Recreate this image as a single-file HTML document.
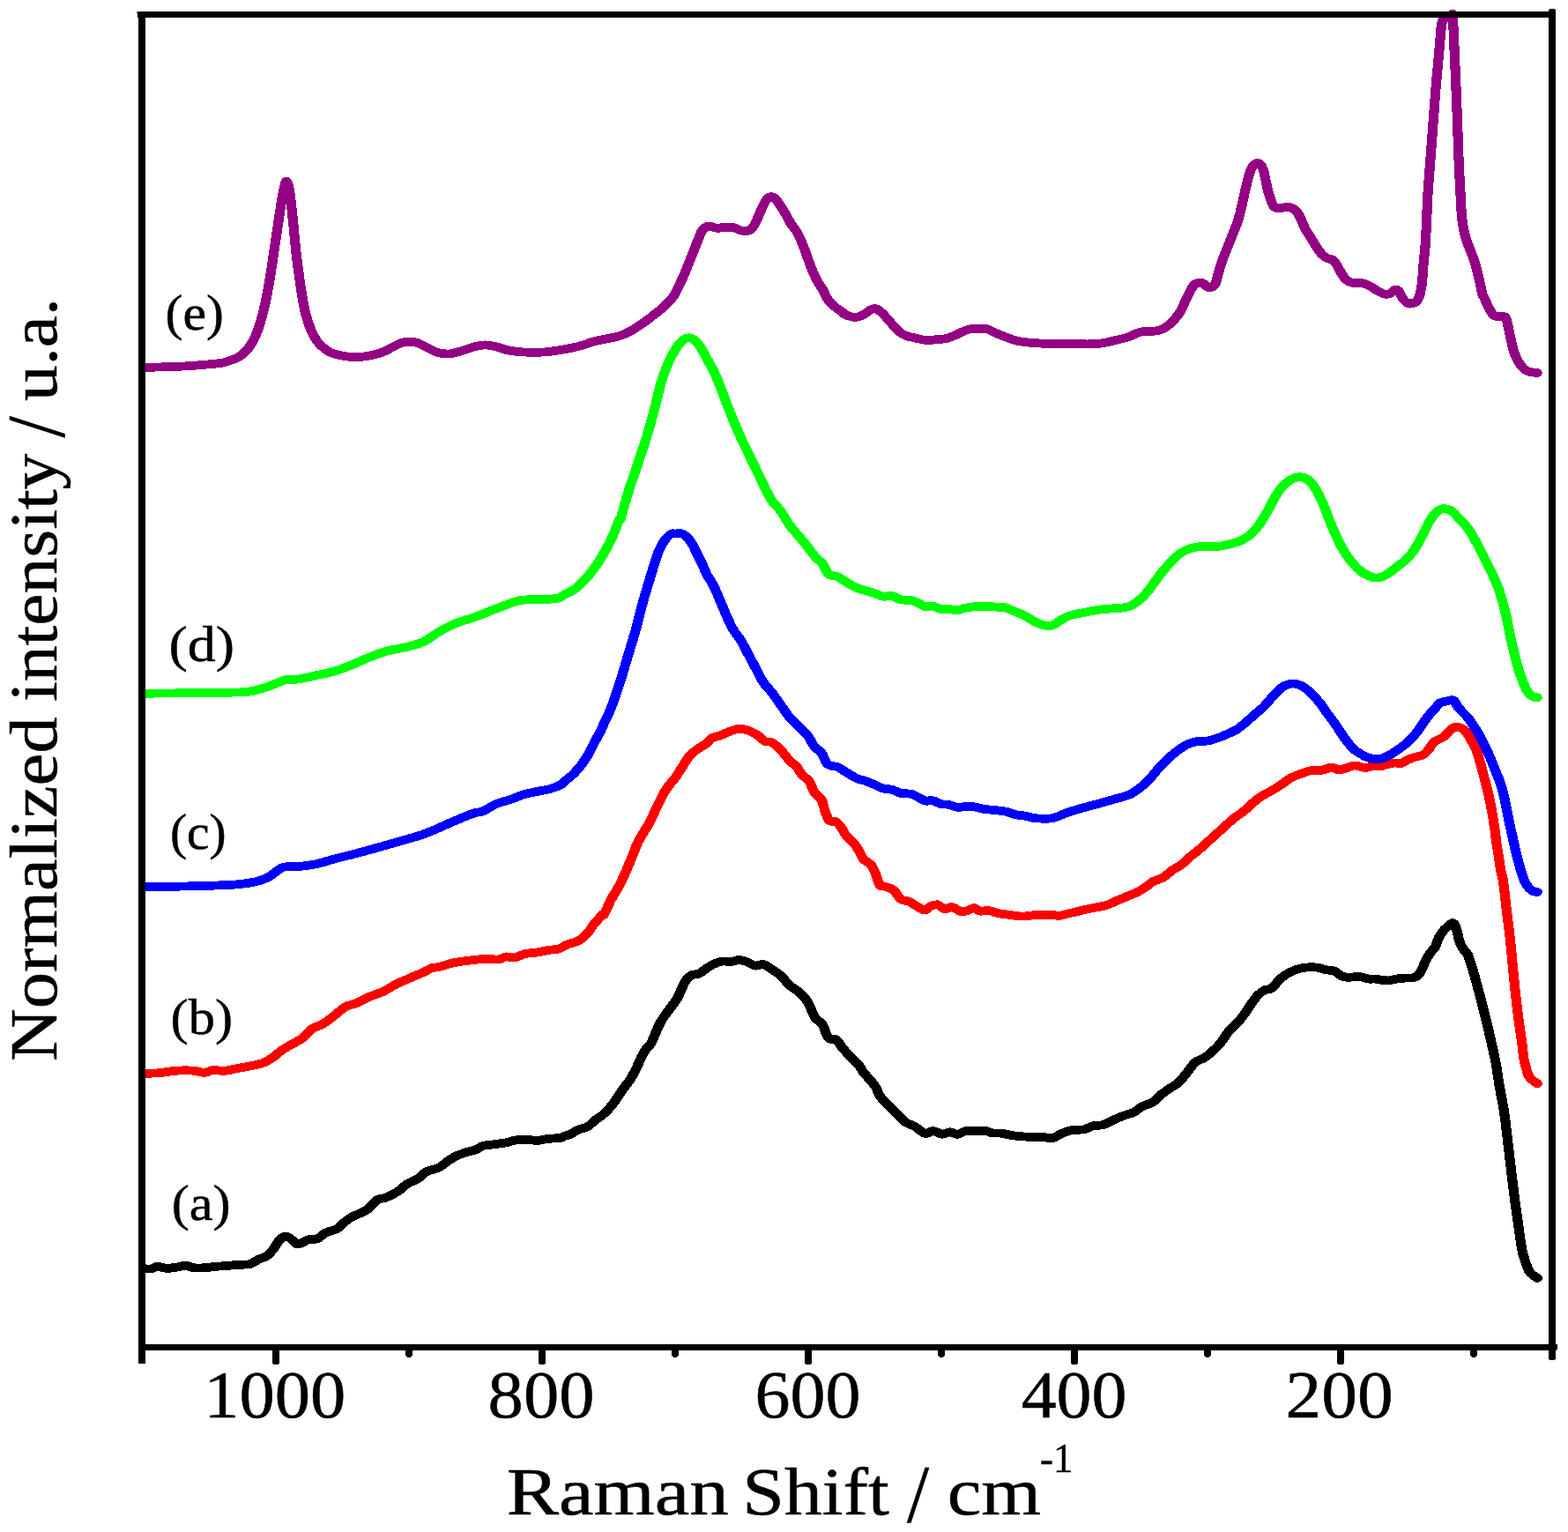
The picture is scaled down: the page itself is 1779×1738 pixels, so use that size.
<!DOCTYPE html>
<html lang="en">
<head>
<meta charset="utf-8">
<title>Raman spectra</title>
<style>
html,body{margin:0;padding:0;background:#ffffff;}
body{width:1779px;height:1738px;overflow:hidden;}
svg{display:block;}
text{font-family:"Liberation Serif","DejaVu Serif",serif;fill:#000;stroke:#000;stroke-width:0.5px;}
.curve{fill:none;stroke-width:9.8;stroke-linejoin:round;stroke-linecap:round;shape-rendering:crispEdges;}
</style>
</head>
<body>
<svg width="1779" height="1738" viewBox="0 0 1779 1738">
<rect x="0" y="0" width="1779" height="1738" fill="#ffffff"/>

<g id="curves" transform="scale(1.14,1)">
<path class="curve" stroke="#000000" d="M142.98,1439.3 C144.30,1439.3 148.54,1439.7 150.88,1439.3 C153.22,1438.9 154.53,1436.8 157.02,1436.7 C159.50,1436.6 162.43,1438.8 165.79,1438.9 C169.15,1439.0 173.98,1437.8 177.19,1437.3 C180.41,1436.8 182.46,1435.5 185.09,1435.7 C187.72,1435.9 189.91,1437.9 192.98,1438.3 C196.05,1438.7 200.00,1438.5 203.51,1438.3 C207.02,1438.1 210.23,1437.3 214.04,1436.9 C217.84,1436.5 222.22,1436.3 226.32,1435.9 C230.41,1435.5 234.80,1435.0 238.60,1434.7 C242.40,1434.4 245.91,1435.0 249.12,1433.9 C252.34,1432.8 255.26,1429.7 257.89,1428.3 C260.53,1426.9 262.57,1427.1 264.91,1425.3 C267.25,1423.5 269.88,1420.1 271.93,1417.3 C273.98,1414.5 275.58,1410.6 277.19,1408.3 C278.80,1406.0 279.97,1404.1 281.58,1403.3 C283.19,1402.5 285.23,1402.6 286.84,1403.3 C288.45,1404.0 289.77,1406.0 291.23,1407.3 C292.69,1408.6 294.15,1410.8 295.61,1411.3 C297.08,1411.8 298.10,1411.1 300.00,1410.3 C301.90,1409.5 304.39,1407.1 307.02,1406.3 C309.65,1405.5 312.87,1406.6 315.79,1405.3 C318.71,1404.0 321.35,1400.1 324.56,1398.3 C327.78,1396.5 332.16,1396.0 335.09,1394.2 C338.01,1392.4 339.47,1389.5 342.11,1387.2 C344.74,1384.9 347.08,1382.6 350.88,1380.2 C354.68,1377.8 360.82,1375.8 364.91,1372.6 C369.01,1369.4 372.22,1363.5 375.44,1361.2 C378.65,1358.9 380.70,1360.3 384.21,1358.6 C387.72,1356.9 392.98,1353.8 396.49,1351.2 C400.00,1348.6 402.05,1345.5 405.26,1343.2 C408.48,1340.9 412.57,1339.5 415.79,1337.2 C419.01,1334.9 421.05,1331.3 424.56,1329.2 C428.07,1327.1 433.33,1326.6 436.84,1324.6 C440.35,1322.6 442.69,1319.5 445.61,1317.3 C448.54,1315.1 451.17,1313.0 454.39,1311.3 C457.60,1309.6 461.70,1308.1 464.91,1306.9 C468.13,1305.7 471.05,1305.5 473.68,1304.3 C476.32,1303.1 477.78,1300.9 480.70,1299.9 C483.63,1298.9 487.43,1298.9 491.23,1298.3 C495.03,1297.7 499.71,1297.1 503.51,1296.3 C507.31,1295.5 510.53,1293.9 514.04,1293.3 C517.54,1292.7 521.05,1292.8 524.56,1292.9 C528.07,1293.0 531.58,1294.1 535.09,1293.9 C538.60,1293.7 541.81,1292.4 545.61,1291.9 C549.42,1291.4 555.26,1291.4 557.89,1290.9 C560.53,1290.4 559.72,1289.8 561.40,1289.1 C563.08,1288.4 565.61,1287.8 567.98,1286.6 C570.35,1285.3 572.88,1282.9 575.61,1281.6 C578.35,1280.2 581.64,1280.3 584.39,1278.5 C587.13,1276.7 589.55,1273.3 592.11,1271.0 C594.66,1268.7 597.19,1267.3 599.74,1264.8 C602.28,1262.3 605.00,1259.2 607.37,1256.1 C609.74,1253.0 611.75,1249.6 613.95,1246.1 C616.14,1242.5 618.33,1238.3 620.53,1234.8 C622.72,1231.2 625.09,1228.3 627.11,1224.8 C629.12,1221.3 630.80,1217.8 632.63,1213.6 C634.46,1209.4 636.43,1203.7 638.07,1199.9 C639.71,1196.2 640.82,1193.8 642.46,1191.1 C644.09,1188.4 646.26,1186.7 647.89,1183.6 C649.53,1180.5 650.82,1176.1 652.28,1172.4 C653.74,1168.7 655.01,1164.7 656.67,1161.2 C658.32,1157.7 660.18,1154.5 662.19,1151.2 C664.21,1147.9 666.77,1144.3 668.77,1141.2 C670.77,1138.1 672.57,1135.7 674.21,1132.4 C675.85,1129.1 677.13,1124.6 678.60,1121.2 C680.06,1117.8 681.35,1114.3 682.98,1111.8 C684.62,1109.3 686.23,1107.5 688.42,1106.2 C690.61,1105.0 693.58,1105.7 696.14,1104.3 C698.70,1102.9 701.21,1100.0 703.77,1098.1 C706.33,1096.2 708.93,1094.3 711.49,1093.1 C714.05,1091.8 716.39,1090.9 719.12,1090.6 C721.86,1090.2 725.16,1091.3 727.89,1091.0 C730.63,1090.7 732.97,1089.0 735.53,1089.0 C738.08,1089.0 740.54,1090.1 743.25,1091.2 C745.95,1092.3 749.02,1095.1 751.75,1095.6 C754.49,1096.1 756.87,1093.3 759.65,1094.0 C762.43,1094.7 765.50,1097.8 768.42,1100.0 C771.35,1102.2 774.27,1104.0 777.19,1107.0 C780.12,1110.0 783.04,1115.0 785.96,1118.0 C788.89,1121.0 791.81,1122.0 794.74,1125.0 C797.66,1128.0 801.17,1132.0 803.51,1136.0 C805.85,1140.0 807.31,1145.7 808.77,1149.0 C810.23,1152.3 810.67,1153.8 812.28,1156.0 C813.89,1158.2 816.67,1159.0 818.42,1162.0 C820.18,1165.0 821.49,1171.2 822.81,1174.0 C824.12,1176.8 824.71,1177.9 826.32,1178.8 C827.92,1179.7 830.41,1177.9 832.46,1179.6 C834.50,1181.3 836.11,1185.6 838.60,1189.0 C841.08,1192.4 844.74,1196.8 847.37,1200.0 C850.00,1203.2 852.34,1205.2 854.39,1208.0 C856.43,1210.8 857.60,1214.0 859.65,1217.0 C861.70,1220.0 864.62,1223.2 866.67,1226.0 C868.71,1228.8 870.47,1231.2 871.93,1234.0 C873.39,1236.8 873.68,1240.0 875.44,1243.0 C877.19,1246.0 880.12,1249.2 882.46,1252.0 C884.80,1254.8 887.13,1257.3 889.47,1260.0 C891.81,1262.7 894.44,1265.7 896.49,1268.0 C898.54,1270.3 899.42,1271.9 901.75,1273.6 C904.09,1275.3 907.89,1276.3 910.53,1278.0 C913.16,1279.7 915.64,1282.7 917.54,1284.0 C919.44,1285.3 920.03,1286.2 921.93,1286.0 C923.83,1285.8 926.32,1282.9 928.95,1283.0 C931.58,1283.1 934.94,1286.5 937.72,1286.7 C940.50,1286.9 943.13,1284.3 945.61,1284.3 C948.10,1284.3 950.00,1287.1 952.63,1286.9 C955.26,1286.7 958.48,1283.5 961.40,1282.9 C964.33,1282.3 967.11,1283.3 970.18,1283.3 C973.25,1283.3 976.90,1282.4 979.82,1282.7 C982.75,1283.0 984.94,1284.8 987.72,1285.3 C990.50,1285.8 992.98,1285.2 996.49,1285.7 C1000.00,1286.2 1004.39,1287.6 1008.77,1288.3 C1013.16,1289.0 1018.13,1289.5 1022.81,1289.7 C1027.49,1289.9 1032.75,1289.4 1036.84,1289.7 C1040.94,1290.0 1044.15,1291.9 1047.37,1291.3 C1050.58,1290.7 1052.92,1287.8 1056.14,1286.3 C1059.36,1284.8 1062.87,1282.8 1066.67,1282.0 C1070.47,1281.2 1075.44,1282.1 1078.95,1281.3 C1082.46,1280.5 1084.50,1278.2 1087.72,1277.3 C1090.94,1276.4 1094.74,1277.2 1098.25,1276.0 C1101.75,1274.8 1105.26,1272.1 1108.77,1270.3 C1112.28,1268.5 1116.08,1266.7 1119.30,1265.3 C1122.51,1263.9 1125.15,1263.7 1128.07,1262.0 C1130.99,1260.3 1133.63,1257.2 1136.84,1255.3 C1140.06,1253.3 1144.15,1252.6 1147.37,1250.3 C1150.58,1248.0 1153.22,1244.0 1156.14,1241.3 C1159.06,1238.6 1161.99,1236.6 1164.91,1234.3 C1167.84,1232.0 1170.76,1230.5 1173.68,1227.3 C1176.61,1224.1 1179.82,1218.9 1182.46,1215.2 C1185.09,1211.5 1186.84,1207.7 1189.47,1205.2 C1192.11,1202.7 1195.61,1202.0 1198.25,1200.2 C1200.88,1198.4 1202.63,1196.9 1205.26,1194.2 C1207.89,1191.5 1211.11,1188.2 1214.04,1184.2 C1216.96,1180.2 1219.88,1174.2 1222.81,1170.2 C1225.73,1166.2 1228.95,1163.5 1231.58,1160.2 C1234.21,1156.9 1236.26,1153.9 1238.60,1150.2 C1240.94,1146.5 1243.27,1141.9 1245.61,1138.2 C1247.95,1134.5 1250.44,1130.7 1252.63,1128.2 C1254.82,1125.7 1256.58,1124.4 1258.77,1123.2 C1260.96,1122.0 1263.60,1122.9 1265.79,1121.2 C1267.98,1119.5 1269.74,1115.7 1271.93,1113.2 C1274.12,1110.7 1276.02,1108.4 1278.95,1106.2 C1281.87,1104.0 1285.96,1101.6 1289.47,1100.2 C1292.98,1098.8 1296.49,1098.0 1300.00,1097.6 C1303.51,1097.2 1307.31,1097.2 1310.53,1097.6 C1313.74,1098.0 1316.37,1099.5 1319.30,1100.2 C1322.22,1100.9 1325.44,1100.4 1328.07,1101.6 C1330.70,1102.8 1332.75,1106.0 1335.09,1107.2 C1337.43,1108.4 1339.18,1108.7 1342.11,1108.8 C1345.03,1108.9 1349.27,1107.7 1352.63,1108.0 C1355.99,1108.3 1359.65,1110.2 1362.28,1110.6 C1364.91,1111.0 1366.30,1110.3 1368.42,1110.5 C1370.54,1110.7 1372.81,1111.4 1375.00,1111.7 C1377.19,1112.0 1379.02,1112.6 1381.58,1112.4 C1384.14,1112.2 1387.43,1111.0 1390.35,1110.5 C1393.27,1110.0 1396.39,1109.7 1399.12,1109.5 C1401.86,1109.3 1404.66,1109.8 1406.75,1109.2 C1408.85,1108.6 1410.20,1107.9 1411.67,1106.1 C1413.13,1104.3 1414.15,1101.7 1415.53,1098.6 C1416.90,1095.5 1418.45,1090.5 1419.91,1087.4 C1421.37,1084.3 1422.84,1082.2 1424.30,1079.9 C1425.76,1077.6 1427.41,1076.4 1428.68,1073.7 C1429.96,1071.0 1430.66,1066.6 1431.93,1063.7 C1433.20,1060.8 1434.85,1058.3 1436.32,1056.2 C1437.78,1054.1 1439.24,1052.7 1440.70,1051.2 C1442.16,1049.7 1443.82,1047.4 1445.09,1047.2 C1446.36,1047.0 1447.43,1048.0 1448.33,1049.9 C1449.24,1051.8 1449.80,1055.6 1450.53,1058.7 C1451.26,1061.8 1451.80,1065.8 1452.72,1068.7 C1453.64,1071.6 1454.77,1073.9 1456.05,1076.2 C1457.34,1078.5 1459.17,1079.7 1460.44,1082.4 C1461.71,1085.1 1462.59,1088.7 1463.68,1092.4 C1464.78,1096.2 1465.92,1100.5 1467.02,1104.9 C1468.11,1109.3 1469.17,1114.0 1470.26,1118.6 C1471.36,1123.2 1472.50,1127.6 1473.60,1132.4 C1474.69,1137.2 1475.75,1142.3 1476.84,1147.3 C1477.94,1152.3 1479.08,1157.1 1480.18,1162.3 C1481.27,1167.5 1482.34,1173.1 1483.42,1178.5 C1484.50,1183.9 1485.73,1189.9 1486.67,1194.8 C1487.60,1199.7 1488.11,1201.9 1489.04,1208.0 C1489.96,1214.1 1490.85,1222.1 1492.19,1231.2 C1493.54,1240.3 1495.73,1252.0 1497.11,1262.4 C1498.48,1272.8 1499.34,1283.2 1500.44,1293.6 C1501.54,1304.0 1502.59,1314.5 1503.68,1324.9 C1504.78,1335.3 1505.83,1345.7 1507.02,1356.1 C1508.20,1366.5 1509.52,1377.1 1510.79,1387.3 C1512.06,1397.5 1513.45,1409.7 1514.65,1417.0 C1515.85,1424.3 1516.70,1426.7 1517.98,1431.0 C1519.27,1435.3 1520.35,1439.8 1522.37,1443.0 C1524.39,1446.2 1528.80,1448.8 1530.09,1450.0"/>
<path class="curve" stroke="#ff0000" d="M142.98,1217.7 C145.47,1217.6 152.49,1217.8 157.89,1217.3 C163.30,1216.8 169.59,1215.1 175.44,1214.7 C181.29,1214.3 188.30,1214.3 192.98,1214.7 C197.66,1215.1 200.29,1217.0 203.51,1216.9 C206.73,1216.8 209.06,1214.2 212.28,1213.9 C215.50,1213.6 218.71,1215.2 222.81,1214.9 C226.90,1214.6 232.16,1212.9 236.84,1211.9 C241.52,1210.9 246.49,1210.0 250.88,1208.9 C255.26,1207.8 259.65,1206.9 263.16,1205.3 C266.67,1203.7 269.01,1201.6 271.93,1199.3 C274.85,1197.0 277.78,1193.6 280.70,1191.3 C283.63,1189.0 285.96,1187.6 289.47,1185.3 C292.98,1183.0 298.25,1180.2 301.75,1177.2 C305.26,1174.2 307.31,1169.8 310.53,1167.2 C313.74,1164.6 317.54,1164.1 321.05,1161.8 C324.56,1159.5 327.78,1156.5 331.58,1153.2 C335.38,1149.9 340.06,1144.7 343.86,1142.2 C347.66,1139.7 350.58,1140.0 354.39,1138.2 C358.19,1136.4 362.28,1133.4 366.67,1131.2 C371.05,1129.0 376.02,1127.7 380.70,1125.2 C385.38,1122.7 390.06,1118.9 394.74,1116.2 C399.42,1113.5 404.39,1111.4 408.77,1109.2 C413.16,1107.0 417.54,1105.0 421.05,1103.2 C424.56,1101.4 427.19,1099.2 429.82,1098.2 C432.46,1097.2 433.33,1098.0 436.84,1097.0 C440.35,1096.0 446.20,1093.6 450.88,1092.4 C455.56,1091.2 459.94,1090.7 464.91,1090.0 C469.88,1089.3 475.44,1088.3 480.70,1088.0 C485.96,1087.7 492.69,1088.8 496.49,1088.4 C500.29,1088.0 500.88,1085.7 503.51,1085.4 C506.14,1085.1 509.06,1087.0 512.28,1086.4 C515.50,1085.8 519.01,1083.0 522.81,1082.0 C526.61,1081.0 531.29,1081.1 535.09,1080.4 C538.89,1079.7 542.11,1078.7 545.61,1078.0 C549.12,1077.3 552.92,1077.5 556.14,1076.4 C559.36,1075.3 561.70,1072.9 564.91,1071.4 C568.13,1069.9 572.22,1069.4 575.44,1067.4 C578.65,1065.4 581.58,1062.6 584.21,1059.4 C586.84,1056.2 588.60,1052.0 591.23,1048.3 C593.86,1044.6 598.30,1039.2 600.00,1037.3 C601.70,1035.4 599.99,1039.9 601.40,1037.0 C602.82,1034.1 606.23,1024.8 608.51,1019.8 C610.79,1014.8 613.08,1011.5 615.09,1007.3 C617.09,1003.1 618.44,1000.0 620.53,994.8 C622.62,989.6 625.35,982.4 627.63,976.1 C629.91,969.9 632.11,962.5 634.21,957.3 C636.32,952.1 638.16,949.0 640.26,944.9 C642.37,940.8 644.47,937.6 646.84,932.4 C649.21,927.2 651.74,919.9 654.47,913.6 C657.21,907.4 660.32,900.1 663.25,894.9 C666.17,889.7 669.37,886.6 672.02,882.4 C674.66,878.2 676.75,874.0 679.12,869.9 C681.49,865.8 683.76,860.8 686.23,857.5 C688.70,854.2 691.20,852.3 693.95,850.0 C696.70,847.7 700.35,845.8 702.72,843.7 C705.09,841.6 705.79,839.0 708.16,837.5 C710.53,836.0 714.20,835.5 716.93,834.4 C719.66,833.2 721.64,831.9 724.56,830.6 C727.49,829.4 731.36,827.3 734.47,826.9 C737.59,826.5 740.37,827.2 743.25,828.1 C746.13,829.0 749.61,831.2 751.75,832.5 C753.90,833.8 754.53,834.6 756.14,836.0 C757.75,837.4 759.36,839.9 761.40,841.0 C763.45,842.1 765.79,840.8 768.42,842.5 C771.05,844.2 774.27,847.6 777.19,851.0 C780.12,854.4 783.33,859.8 785.96,863.0 C788.60,866.2 790.94,867.3 792.98,870.0 C795.03,872.7 796.20,876.3 798.25,879.0 C800.29,881.7 803.22,882.7 805.26,886.0 C807.31,889.3 808.48,895.5 810.53,899.0 C812.57,902.5 815.79,903.5 817.54,907.0 C819.30,910.5 819.74,916.0 821.05,920.0 C822.37,924.0 823.68,929.0 825.44,931.0 C827.19,933.0 829.68,930.8 831.58,932.0 C833.48,933.2 835.09,935.3 836.84,938.0 C838.60,940.7 839.77,944.7 842.11,948.0 C844.44,951.3 848.54,954.7 850.88,958.0 C853.22,961.3 854.68,965.2 856.14,968.0 C857.60,970.8 857.89,972.8 859.65,975.0 C861.40,977.2 864.77,978.5 866.67,981.0 C868.57,983.5 869.59,986.2 871.05,990.0 C872.51,993.8 873.83,1001.4 875.44,1004.0 C877.05,1006.6 878.36,1004.6 880.70,1005.6 C883.04,1006.6 886.84,1007.6 889.47,1010.0 C892.11,1012.4 893.86,1017.8 896.49,1020.0 C899.12,1022.2 902.63,1021.7 905.26,1023.0 C907.89,1024.3 909.80,1026.4 912.28,1028.0 C914.77,1029.6 917.84,1032.6 920.18,1032.6 C922.51,1032.6 924.12,1029.0 926.32,1028.0 C928.51,1027.0 930.99,1025.8 933.33,1026.4 C935.67,1027.0 938.01,1031.2 940.35,1031.6 C942.69,1032.0 944.74,1028.6 947.37,1029.0 C950.00,1029.4 953.51,1033.3 956.14,1034.0 C958.77,1034.7 960.96,1033.7 963.16,1033.0 C965.35,1032.3 967.25,1029.9 969.30,1030.0 C971.35,1030.1 972.95,1033.1 975.44,1033.6 C977.92,1034.1 981.29,1032.6 984.21,1033.0 C987.13,1033.4 989.47,1035.2 992.98,1036.0 C996.49,1036.8 1001.17,1037.4 1005.26,1038.0 C1009.36,1038.6 1013.16,1039.6 1017.54,1039.6 C1021.93,1039.6 1026.61,1038.3 1031.58,1038.0 C1036.55,1037.7 1043.57,1037.9 1047.37,1038.0 C1051.17,1038.1 1051.46,1039.1 1054.39,1038.8 C1057.31,1038.5 1060.23,1037.2 1064.91,1036.0 C1069.59,1034.8 1076.61,1032.8 1082.46,1031.3 C1088.30,1029.8 1095.32,1028.8 1100.00,1027.3 C1104.68,1025.8 1107.02,1024.0 1110.53,1022.3 C1114.04,1020.6 1117.54,1019.0 1121.05,1017.3 C1124.56,1015.6 1128.36,1014.1 1131.58,1012.3 C1134.80,1010.5 1137.72,1008.3 1140.35,1006.3 C1142.98,1004.3 1144.44,1002.1 1147.37,1000.3 C1150.29,998.5 1154.68,997.5 1157.89,995.3 C1161.11,993.1 1163.74,989.6 1166.67,987.3 C1169.59,985.0 1172.51,983.8 1175.44,981.3 C1178.36,978.8 1181.29,975.1 1184.21,972.3 C1187.13,969.5 1190.06,967.1 1192.98,964.3 C1195.91,961.5 1198.83,958.3 1201.75,955.3 C1204.68,952.3 1207.60,949.2 1210.53,946.2 C1213.45,943.2 1216.37,940.2 1219.30,937.2 C1222.22,934.2 1225.15,930.9 1228.07,928.2 C1230.99,925.5 1233.92,923.9 1236.84,921.2 C1239.77,918.5 1242.69,915.1 1245.61,912.2 C1248.54,909.3 1251.32,906.4 1254.39,904.0 C1257.46,901.6 1260.67,900.2 1264.04,898.0 C1267.40,895.8 1271.05,893.2 1274.56,890.6 C1278.07,888.0 1281.58,884.5 1285.09,882.3 C1288.60,880.1 1292.11,878.9 1295.61,877.5 C1299.12,876.1 1302.92,874.4 1306.14,873.8 C1309.36,873.2 1311.70,874.5 1314.91,874.0 C1318.13,873.5 1322.51,870.6 1325.44,870.5 C1328.36,870.4 1330.12,873.2 1332.46,873.4 C1334.80,873.6 1336.84,872.4 1339.47,871.6 C1342.11,870.8 1345.03,868.5 1348.25,868.4 C1351.46,868.3 1355.56,871.0 1358.77,871.0 C1361.99,871.0 1365.94,869.0 1367.54,868.6 C1369.15,868.2 1367.18,868.5 1368.42,868.6 C1369.66,868.7 1372.81,869.3 1375.00,869.0 C1377.19,868.7 1379.39,867.4 1381.58,866.8 C1383.77,866.2 1385.96,865.7 1388.16,865.5 C1390.35,865.3 1392.54,866.4 1394.74,865.8 C1396.93,865.2 1398.95,863.0 1401.32,861.8 C1403.68,860.6 1406.40,859.6 1408.95,858.7 C1411.49,857.8 1414.39,857.7 1416.58,856.2 C1418.77,854.7 1420.45,852.2 1422.11,849.9 C1423.76,847.6 1424.85,844.3 1426.49,842.4 C1428.13,840.5 1430.10,839.9 1431.93,838.7 C1433.76,837.6 1435.80,837.0 1437.46,835.5 C1439.11,834.0 1440.38,831.5 1441.84,829.9 C1443.30,828.2 1444.78,826.4 1446.23,825.6 C1447.68,824.8 1448.89,824.7 1450.53,824.9 C1452.16,825.1 1454.40,825.5 1456.05,826.8 C1457.70,828.0 1458.98,830.0 1460.44,832.4 C1461.90,834.8 1463.35,838.1 1464.82,841.2 C1466.30,844.3 1467.97,847.5 1469.30,851.2 C1470.63,854.9 1471.64,859.0 1472.81,863.6 C1473.98,868.2 1475.16,873.6 1476.32,878.6 C1477.47,883.6 1478.65,888.6 1479.74,893.6 C1480.82,898.6 1481.89,903.6 1482.81,908.6 C1483.73,913.6 1484.47,918.4 1485.26,923.6 C1486.05,928.8 1486.84,934.2 1487.54,939.8 C1488.25,945.4 1488.79,951.9 1489.47,957.3 C1490.16,962.7 1490.99,967.3 1491.67,972.3 C1492.34,977.2 1492.78,982.4 1493.51,987.0 C1494.24,991.6 1495.09,992.6 1496.05,1000.0 C1497.02,1007.4 1498.20,1020.8 1499.30,1031.2 C1500.39,1041.6 1501.62,1052.0 1502.63,1062.4 C1503.64,1072.8 1504.44,1083.2 1505.35,1093.6 C1506.26,1104.0 1507.08,1114.5 1508.07,1124.9 C1509.06,1135.3 1510.13,1145.7 1511.32,1156.1 C1512.50,1166.5 1514.30,1179.8 1515.18,1187.3 C1516.05,1194.8 1515.94,1196.8 1516.58,1201.0 C1517.22,1205.2 1518.17,1209.1 1519.04,1212.5 C1519.90,1215.9 1520.57,1218.9 1521.75,1221.2 C1522.94,1223.5 1524.77,1224.9 1526.14,1226.2 C1527.51,1227.5 1529.36,1228.8 1530.00,1229.3"/>
<path class="curve" stroke="#0000ff" d="M142.98,1006.3 C148.39,1006.2 164.18,1006.0 175.44,1005.7 C186.70,1005.4 200.29,1005.1 210.53,1004.7 C220.76,1004.3 229.53,1004.0 236.84,1003.3 C244.15,1002.6 249.42,1001.6 254.39,1000.3 C259.36,999.0 263.16,997.3 266.67,995.3 C270.18,993.3 272.81,990.2 275.44,988.3 C278.07,986.4 278.65,984.6 282.46,983.7 C286.26,982.8 292.69,983.5 298.25,982.9 C303.80,982.3 309.94,981.3 315.79,979.9 C321.64,978.5 327.49,976.1 333.33,974.3 C339.18,972.5 345.03,971.0 350.88,969.3 C356.73,967.6 362.57,965.7 368.42,963.9 C374.27,962.1 380.12,960.2 385.96,958.3 C391.81,956.4 397.66,954.5 403.51,952.6 C409.36,950.7 415.50,948.8 421.05,946.6 C426.61,944.4 431.29,941.9 436.84,939.2 C442.40,936.5 448.54,933.2 454.39,930.4 C460.23,927.6 467.54,924.1 471.93,922.4 C476.32,920.7 477.19,922.1 480.70,920.4 C484.21,918.7 488.60,914.6 492.98,912.4 C497.37,910.2 502.34,909.2 507.02,907.4 C511.70,905.6 516.37,903.0 521.05,901.4 C525.73,899.8 530.70,898.9 535.09,897.8 C539.47,896.7 543.57,896.2 547.37,895.0 C551.17,893.8 555.56,891.8 557.89,890.4 C560.23,889.0 558.99,889.2 561.40,886.8 C563.82,884.4 568.71,880.7 572.37,876.2 C576.02,871.7 580.04,865.8 583.33,860.0 C586.62,854.2 589.74,846.2 592.11,841.2 C594.47,836.2 595.99,833.5 597.54,830.0 C599.09,826.5 599.85,823.8 601.40,820.0 C602.95,816.2 604.39,814.1 606.84,807.0 C609.30,799.9 613.22,787.4 616.14,777.3 C619.06,767.1 621.64,756.5 624.39,746.1 C627.13,735.7 630.07,725.3 632.63,714.9 C635.19,704.5 637.19,694.0 639.74,683.6 C642.28,673.2 645.70,660.7 647.89,652.4 C650.09,644.1 651.33,638.9 652.89,633.7 C654.46,628.5 655.64,625.0 657.28,621.2 C658.92,617.5 660.91,613.8 662.72,611.2 C664.53,608.6 666.61,606.5 668.16,605.6 C669.71,604.7 670.45,605.7 672.02,605.6 C673.58,605.5 675.72,604.5 677.54,605.0 C679.37,605.5 681.17,606.8 682.98,608.7 C684.80,610.6 686.68,613.1 688.42,616.2 C690.16,619.3 691.68,623.5 693.42,627.5 C695.16,631.5 697.13,635.8 698.86,639.9 C700.58,644.0 701.86,648.2 703.77,652.4 C705.69,656.6 708.07,659.7 710.35,664.9 C712.63,670.1 715.09,677.4 717.46,683.6 C719.82,689.9 722.46,697.2 724.56,702.4 C726.67,707.6 727.89,710.8 730.09,714.9 C732.28,719.0 734.99,722.1 737.72,727.3 C740.45,732.5 744.15,741.1 746.49,746.1 C748.83,751.1 749.56,752.6 751.75,757.3 C753.95,761.9 756.87,769.2 759.65,774.0 C762.43,778.8 765.50,781.7 768.42,786.0 C771.35,790.3 774.27,795.3 777.19,800.0 C780.12,804.7 783.04,810.0 785.96,814.0 C788.89,818.0 791.81,820.7 794.74,824.0 C797.66,827.3 800.88,830.2 803.51,834.0 C806.14,837.8 808.19,843.7 810.53,847.0 C812.87,850.3 815.50,850.8 817.54,854.0 C819.59,857.2 821.05,863.5 822.81,866.0 C824.56,868.5 826.32,868.3 828.07,869.0 C829.82,869.7 830.99,868.8 833.33,870.0 C835.67,871.2 838.89,873.8 842.11,876.0 C845.32,878.2 849.42,881.3 852.63,883.0 C855.85,884.7 858.48,884.8 861.40,886.0 C864.33,887.2 867.25,888.6 870.18,890.0 C873.10,891.4 876.02,893.6 878.95,894.6 C881.87,895.6 884.80,894.9 887.72,895.8 C890.64,896.7 893.27,899.0 896.49,899.8 C899.71,900.6 904.09,900.0 907.02,900.8 C909.94,901.6 911.70,903.3 914.04,904.6 C916.37,905.9 918.71,908.0 921.05,908.6 C923.39,909.2 925.44,907.6 928.07,908.2 C930.70,908.8 934.21,911.4 936.84,912.2 C939.47,913.0 941.23,912.2 943.86,912.8 C946.49,913.4 949.71,915.4 952.63,915.8 C955.56,916.2 958.48,915.1 961.40,915.0 C964.33,914.9 967.25,914.9 970.18,915.4 C973.10,915.9 975.44,917.2 978.95,917.8 C982.46,918.4 987.43,918.7 991.23,919.2 C995.03,919.7 998.54,920.0 1001.75,920.8 C1004.97,921.6 1007.31,923.4 1010.53,924.2 C1013.74,925.0 1017.84,925.1 1021.05,925.8 C1024.27,926.5 1025.44,927.8 1029.82,928.2 C1034.21,928.6 1042.11,929.2 1047.37,928.2 C1052.63,927.2 1056.73,924.0 1061.40,922.2 C1066.08,920.4 1070.18,918.9 1075.44,917.2 C1080.70,915.5 1087.13,913.6 1092.98,911.8 C1098.83,910.0 1105.26,908.0 1110.53,906.2 C1115.79,904.4 1120.47,903.4 1124.56,901.2 C1128.65,899.0 1131.87,896.0 1135.09,893.2 C1138.30,890.4 1140.94,887.7 1143.86,884.2 C1146.78,880.7 1149.71,875.9 1152.63,872.2 C1155.56,868.5 1158.48,865.3 1161.40,862.1 C1164.33,858.9 1166.96,855.9 1170.18,853.1 C1173.39,850.3 1177.19,847.1 1180.70,845.1 C1184.21,843.1 1187.72,841.9 1191.23,841.1 C1194.74,840.3 1198.25,841.2 1201.75,840.5 C1205.26,839.8 1208.77,838.5 1212.28,837.1 C1215.79,835.7 1219.59,833.8 1222.81,832.1 C1226.02,830.4 1228.65,829.3 1231.58,827.1 C1234.50,824.9 1237.43,821.9 1240.35,819.1 C1243.27,816.3 1246.20,813.0 1249.12,810.1 C1252.05,807.2 1254.97,805.0 1257.89,801.6 C1260.82,798.2 1263.74,793.6 1266.67,790.0 C1269.59,786.4 1272.81,782.3 1275.44,780.0 C1278.07,777.7 1280.26,777.0 1282.46,776.3 C1284.65,775.6 1286.18,775.1 1288.60,775.6 C1291.01,776.1 1294.15,777.1 1296.93,779.0 C1299.71,780.9 1302.41,783.8 1305.26,787.0 C1308.11,790.2 1311.40,794.2 1314.04,798.0 C1316.67,801.8 1318.42,805.3 1321.05,809.5 C1323.68,813.7 1326.90,818.2 1329.82,823.0 C1332.75,827.8 1335.67,833.5 1338.60,838.0 C1341.52,842.5 1344.59,847.0 1347.37,850.0 C1350.15,853.0 1353.07,854.5 1355.26,856.0 C1357.46,857.5 1358.33,858.1 1360.53,859.0 C1362.72,859.9 1366.01,860.9 1368.42,861.1 C1370.83,861.4 1372.63,861.2 1375.00,860.5 C1377.37,859.8 1380.07,858.3 1382.63,856.8 C1385.19,855.2 1387.79,853.2 1390.35,851.2 C1392.91,849.2 1395.42,847.3 1397.98,844.9 C1400.54,842.5 1403.33,839.7 1405.70,836.8 C1408.07,833.9 1410.19,830.5 1412.19,827.4 C1414.20,824.3 1415.89,821.0 1417.72,818.1 C1419.55,815.2 1421.33,812.5 1423.16,810.0 C1424.99,807.5 1427.03,805.2 1428.68,803.1 C1430.34,801.0 1431.43,798.7 1433.07,797.5 C1434.71,796.3 1436.68,796.3 1438.51,795.8 C1440.34,795.3 1442.57,794.4 1444.04,794.3 C1445.50,794.2 1446.21,793.9 1447.28,795.0 C1448.35,796.1 1449.11,799.1 1450.44,801.2 C1451.77,803.3 1453.58,805.4 1455.26,807.5 C1456.94,809.6 1458.87,811.4 1460.53,813.7 C1462.18,816.0 1463.45,818.3 1465.18,821.2 C1466.90,824.1 1468.98,827.5 1470.88,831.2 C1472.78,835.0 1474.68,839.3 1476.58,843.7 C1478.48,848.1 1480.38,852.4 1482.28,857.4 C1484.18,862.4 1486.15,868.4 1487.98,873.6 C1489.81,878.8 1491.73,883.4 1493.25,888.6 C1494.77,893.8 1496.01,899.6 1497.11,904.8 C1498.20,910.0 1498.90,914.6 1499.82,919.8 C1500.75,925.0 1501.62,930.7 1502.63,936.1 C1503.64,941.5 1504.80,946.9 1505.88,952.3 C1506.96,957.7 1507.85,962.7 1509.12,968.5 C1510.39,974.3 1512.13,981.8 1513.51,987.0 C1514.88,992.2 1515.99,996.6 1517.37,1000.0 C1518.74,1003.4 1520.29,1005.6 1521.75,1007.5 C1523.22,1009.4 1524.77,1010.5 1526.14,1011.2 C1527.51,1012.0 1529.36,1011.9 1530.00,1012.0"/>
<path class="curve" stroke="#00ff00" d="M142.98,786.7 C149.85,786.6 171.49,786.5 184.21,786.3 C196.93,786.1 209.06,785.9 219.30,785.7 C229.53,785.5 238.30,785.9 245.61,785.0 C252.92,784.1 258.19,782.0 263.16,780.3 C268.13,778.6 271.93,776.5 275.44,775.0 C278.95,773.5 280.41,772.1 284.21,771.3 C288.01,770.5 292.98,771.2 298.25,770.3 C303.51,769.4 309.94,767.5 315.79,766.0 C321.64,764.5 327.49,763.3 333.33,761.3 C339.18,759.3 345.03,756.7 350.88,754.0 C356.73,751.3 362.57,747.9 368.42,745.3 C374.27,742.7 380.12,740.1 385.96,738.3 C391.81,736.5 397.66,736.0 403.51,734.3 C409.36,732.6 415.50,731.2 421.05,728.3 C426.61,725.4 431.29,720.4 436.84,716.8 C442.40,713.2 448.54,709.5 454.39,706.8 C460.23,704.1 466.08,702.8 471.93,700.4 C477.78,698.0 484.21,694.7 489.47,692.4 C494.74,690.1 499.42,688.1 503.51,686.4 C507.60,684.7 509.94,683.1 514.04,682.0 C518.13,680.9 522.81,680.4 528.07,680.0 C533.33,679.6 540.94,680.1 545.61,679.8 C550.29,679.5 553.51,679.2 556.14,678.4 C558.77,677.6 558.70,676.6 561.40,674.9 C564.11,673.2 568.71,671.1 572.37,668.0 C576.02,664.9 579.68,660.9 583.33,656.2 C586.99,651.5 591.02,645.3 594.30,639.9 C597.57,634.5 600.44,628.9 602.98,623.7 C605.53,618.5 607.37,614.3 609.56,608.7 C611.75,603.1 614.72,593.6 616.14,590.0 C617.56,586.4 616.51,592.5 618.07,587.0 C619.63,581.5 622.73,567.4 625.53,557.3 C628.32,547.1 631.78,536.5 634.82,526.1 C637.87,515.7 640.99,505.3 643.77,494.9 C646.55,484.5 649.06,474.0 651.49,463.6 C653.92,453.2 656.18,440.7 658.33,432.4 C660.48,424.1 662.47,418.9 664.39,413.7 C666.30,408.5 668.00,404.9 669.82,401.2 C671.65,397.4 673.52,393.9 675.35,391.2 C677.18,388.5 678.79,386.3 680.79,385.0 C682.79,383.7 685.35,383.1 687.37,383.5 C689.39,383.9 691.15,385.6 692.89,387.5 C694.63,389.4 695.99,391.7 697.81,395.0 C699.62,398.3 701.77,403.4 703.77,407.5 C705.77,411.6 708.00,415.8 709.82,419.9 C711.65,424.0 712.18,425.1 714.74,432.4 C717.30,439.7 721.52,453.2 725.18,463.6 C728.83,474.0 732.56,484.5 736.67,494.9 C740.77,505.3 745.44,515.7 749.82,526.1 C754.21,536.5 759.74,550.0 762.98,557.3 C766.23,564.6 766.93,566.0 769.30,569.8 C771.67,573.6 774.42,575.6 777.19,580.0 C779.97,584.4 783.04,591.3 785.96,596.0 C788.89,600.7 791.81,604.0 794.74,608.0 C797.66,612.0 800.58,615.8 803.51,620.0 C806.43,624.2 809.80,629.8 812.28,633.0 C814.77,636.2 816.52,636.2 818.42,639.0 C820.32,641.8 822.08,647.7 823.68,650.0 C825.29,652.3 826.46,652.3 828.07,653.0 C829.68,653.7 831.29,653.0 833.33,654.0 C835.38,655.0 837.43,657.0 840.35,659.0 C843.27,661.0 847.37,664.2 850.88,666.0 C854.39,667.8 858.19,668.8 861.40,670.0 C864.62,671.2 867.25,671.9 870.18,673.0 C873.10,674.1 876.02,676.1 878.95,676.6 C881.87,677.1 884.80,675.6 887.72,676.2 C890.64,676.8 893.27,679.4 896.49,680.2 C899.71,681.0 904.09,680.5 907.02,681.2 C909.94,681.9 911.70,683.0 914.04,684.2 C916.37,685.4 918.71,687.6 921.05,688.2 C923.39,688.8 925.44,687.1 928.07,687.6 C930.70,688.1 934.21,690.7 936.84,691.2 C939.47,691.7 941.23,690.6 943.86,690.8 C946.49,691.0 949.71,692.4 952.63,692.2 C955.56,692.0 958.48,690.3 961.40,689.6 C964.33,688.9 966.67,688.5 970.18,688.2 C973.68,687.9 978.95,687.7 982.46,687.8 C985.96,687.9 988.30,688.4 991.23,688.6 C994.15,688.8 997.08,688.4 1000.00,689.2 C1002.92,690.0 1005.56,691.7 1008.77,693.2 C1011.99,694.7 1015.79,696.2 1019.30,698.2 C1022.81,700.2 1026.61,703.4 1029.82,705.2 C1033.04,707.0 1035.67,708.5 1038.60,709.2 C1041.52,709.9 1044.44,710.4 1047.37,709.4 C1050.29,708.4 1053.22,705.1 1056.14,703.3 C1059.06,701.4 1061.11,699.7 1064.91,698.3 C1068.71,696.9 1073.68,696.1 1078.95,694.9 C1084.21,693.7 1090.64,692.1 1096.49,691.3 C1102.34,690.5 1109.36,690.5 1114.04,689.9 C1118.71,689.3 1121.35,689.1 1124.56,687.7 C1127.78,686.3 1130.41,684.0 1133.33,681.3 C1136.26,678.6 1139.47,674.8 1142.11,671.3 C1144.74,667.8 1146.49,664.3 1149.12,660.3 C1151.75,656.3 1154.97,651.2 1157.89,647.2 C1160.82,643.2 1163.74,639.5 1166.67,636.2 C1169.59,632.9 1172.22,629.6 1175.44,627.2 C1178.65,624.8 1182.16,623.0 1185.96,621.8 C1189.77,620.6 1193.86,620.1 1198.25,619.8 C1202.63,619.5 1207.89,620.2 1212.28,619.8 C1216.67,619.4 1220.76,618.3 1224.56,617.2 C1228.36,616.1 1231.87,614.9 1235.09,613.2 C1238.30,611.5 1240.94,610.0 1243.86,607.2 C1246.78,604.4 1249.71,600.7 1252.63,596.2 C1255.56,591.7 1258.77,585.2 1261.40,580.0 C1264.04,574.8 1266.08,569.5 1268.42,565.0 C1270.76,560.5 1272.81,556.4 1275.44,553.0 C1278.07,549.6 1281.24,546.5 1284.21,544.5 C1287.18,542.5 1290.25,541.2 1293.25,541.2 C1296.24,541.2 1299.53,542.3 1302.19,544.5 C1304.85,546.7 1306.87,550.2 1309.21,554.5 C1311.55,558.8 1314.04,564.4 1316.23,570.0 C1318.42,575.6 1320.18,581.8 1322.37,588.0 C1324.56,594.2 1327.05,601.2 1329.39,607.0 C1331.73,612.8 1333.77,617.9 1336.40,623.0 C1339.04,628.1 1342.03,633.2 1345.18,637.5 C1348.32,641.8 1352.12,646.2 1355.26,649.0 C1358.41,651.8 1361.84,652.9 1364.04,654.0 C1366.23,655.1 1366.59,655.4 1368.42,655.5 C1370.25,655.6 1372.63,655.5 1375.00,654.6 C1377.37,653.7 1380.07,651.8 1382.63,649.9 C1385.19,648.0 1387.79,645.3 1390.35,643.0 C1392.91,640.7 1395.42,638.9 1397.98,636.2 C1400.54,633.5 1403.33,630.3 1405.70,626.8 C1408.07,623.2 1410.19,618.9 1412.19,614.9 C1414.20,610.9 1415.89,606.5 1417.72,602.5 C1419.55,598.5 1421.33,594.0 1423.16,590.6 C1424.99,587.2 1426.86,584.1 1428.68,581.9 C1430.51,579.7 1432.30,578.2 1434.12,577.5 C1435.95,576.8 1437.82,577.1 1439.65,577.5 C1441.48,577.9 1443.27,578.5 1445.09,580.0 C1446.90,581.5 1448.33,583.6 1450.53,586.2 C1452.72,588.8 1455.86,592.3 1458.25,595.6 C1460.63,598.9 1462.63,602.2 1464.82,606.2 C1467.02,610.2 1469.21,615.1 1471.40,619.9 C1473.60,624.7 1475.79,629.9 1477.98,634.9 C1480.18,639.9 1482.56,645.1 1484.56,649.9 C1486.56,654.7 1488.36,658.8 1490.00,663.6 C1491.64,668.4 1493.01,673.4 1494.39,678.6 C1495.76,683.8 1497.15,689.6 1498.25,694.8 C1499.34,700.0 1500.06,704.8 1500.96,709.8 C1501.87,714.8 1502.68,719.6 1503.68,724.8 C1504.69,730.0 1505.83,735.6 1507.02,741.0 C1508.20,746.4 1509.43,752.1 1510.79,757.3 C1512.15,762.5 1513.89,768.0 1515.18,772.0 C1516.46,776.0 1517.22,778.5 1518.51,781.2 C1519.80,783.9 1521.45,786.6 1522.89,788.2 C1524.34,789.8 1526.01,790.5 1527.19,791.0 C1528.38,791.5 1529.53,791.2 1530.00,791.3"/>
<path class="curve" stroke="#940084" d="M142.98,417.0 C149.85,416.7 171.86,416.2 184.21,415.4 C196.56,414.6 209.99,413.2 217.11,412.3 C224.23,411.4 223.46,411.1 226.93,409.8 C230.39,408.6 234.78,406.9 237.89,404.8 C241.01,402.7 243.33,400.2 245.61,397.3 C247.89,394.4 249.77,391.1 251.58,387.3 C253.39,383.6 254.84,380.0 256.49,374.8 C258.14,369.6 260.03,362.4 261.49,356.1 C262.95,349.9 263.99,344.6 265.26,337.3 C266.54,330.0 267.94,320.7 269.12,312.4 C270.31,304.1 271.27,295.7 272.37,287.4 C273.46,279.1 274.61,270.7 275.70,262.4 C276.80,254.1 277.94,244.8 278.95,237.5 C279.96,230.2 280.98,223.4 281.75,218.7 C282.53,214.0 283.04,211.7 283.60,209.5 C284.15,207.3 284.58,205.5 285.09,205.5 C285.60,205.5 286.10,207.3 286.67,209.5 C287.24,211.7 287.88,214.0 288.51,218.7 C289.14,223.4 289.75,230.2 290.44,237.5 C291.13,244.8 291.90,254.1 292.63,262.4 C293.36,270.7 293.99,279.1 294.82,287.4 C295.66,295.7 296.62,304.1 297.63,312.4 C298.64,320.7 299.78,330.0 300.88,337.3 C301.97,344.6 302.75,349.9 304.21,356.1 C305.67,362.4 307.73,369.6 309.65,374.8 C311.56,380.0 313.60,384.0 315.70,387.3 C317.81,390.6 320.10,392.7 322.28,394.8 C324.46,396.9 326.23,398.5 328.77,399.8 C331.32,401.1 334.25,402.1 337.54,402.9 C340.83,403.7 344.85,404.5 348.51,404.8 C352.16,405.1 355.82,405.1 359.47,404.8 C363.13,404.5 366.78,403.8 370.44,402.9 C374.09,402.0 377.94,400.8 381.40,399.2 C384.87,397.6 387.98,395.3 391.23,393.5 C394.47,391.7 397.37,389.4 400.88,388.5 C404.39,387.6 408.92,387.4 412.28,388.0 C415.64,388.6 418.13,390.5 421.05,392.0 C423.98,393.5 427.19,395.6 429.82,397.0 C432.46,398.4 433.92,399.7 436.84,400.4 C439.77,401.1 443.57,401.8 447.37,401.4 C451.17,401.0 455.56,399.3 459.65,398.0 C463.74,396.7 468.13,394.5 471.93,393.4 C475.73,392.3 478.95,391.5 482.46,391.4 C485.96,391.3 489.47,392.1 492.98,393.0 C496.49,393.9 500.00,395.8 503.51,396.8 C507.02,397.8 509.94,398.3 514.04,398.8 C518.13,399.3 523.39,399.7 528.07,399.8 C532.75,399.9 537.43,399.8 542.11,399.4 C546.78,399.0 551.46,398.2 556.14,397.4 C560.82,396.6 566.08,395.4 570.18,394.4 C574.27,393.4 577.49,392.5 580.70,391.4 C583.92,390.3 585.96,388.9 589.47,387.8 C592.98,386.7 597.37,385.9 601.75,384.8 C606.14,383.7 611.70,382.8 615.79,381.4 C619.88,380.0 622.81,378.5 626.32,376.4 C629.82,374.3 633.33,371.7 636.84,369.0 C640.35,366.3 645.32,362.1 647.37,360.4 C649.42,358.7 647.00,360.6 649.12,358.6 C651.24,356.6 656.62,352.2 660.09,348.6 C663.55,345.0 667.18,341.1 669.91,336.7 C672.65,332.3 674.47,327.1 676.49,322.4 C678.51,317.7 680.37,313.0 682.02,308.6 C683.67,304.2 684.96,300.2 686.40,296.1 C687.85,292.0 689.25,287.9 690.70,283.7 C692.15,279.5 693.71,274.9 695.09,271.2 C696.46,267.4 697.66,263.5 698.95,261.2 C700.23,258.9 701.43,258.1 702.81,257.4 C704.18,256.7 705.37,256.6 707.19,256.8 C709.02,257.1 711.40,258.8 713.77,258.9 C716.14,259.0 718.67,257.8 721.40,257.7 C724.14,257.6 727.62,257.7 730.18,258.3 C732.73,258.9 734.75,260.6 736.75,261.2 C738.76,261.8 740.37,262.3 742.19,262.1 C744.02,261.9 746.07,261.5 747.72,259.9 C749.37,258.3 750.75,255.3 752.11,252.4 C753.46,249.5 754.61,245.8 755.88,242.5 C757.15,239.2 758.54,235.2 759.74,232.5 C760.94,229.8 761.80,227.8 763.07,226.2 C764.34,224.6 765.92,223.2 767.37,223.1 C768.82,223.0 770.29,224.0 771.75,225.6 C773.22,227.2 774.49,229.7 776.14,232.5 C777.79,235.3 779.84,239.0 781.67,242.5 C783.49,246.0 785.28,250.4 787.11,253.7 C788.93,257.0 790.98,259.3 792.63,262.4 C794.28,265.5 795.56,268.6 797.02,272.4 C798.48,276.1 799.96,280.5 801.40,284.9 C802.85,289.3 804.25,294.2 805.70,298.6 C807.15,303.0 808.63,307.4 810.09,311.1 C811.55,314.9 813.01,318.2 814.47,321.1 C815.94,324.0 817.40,325.7 818.86,328.6 C820.32,331.5 821.59,335.7 823.25,338.6 C824.90,341.5 826.75,343.9 828.77,346.1 C830.79,348.3 833.57,350.2 835.35,351.7 C837.13,353.1 838.64,354.0 839.47,354.8 C840.31,355.6 838.45,355.9 840.35,356.7 C842.25,357.5 847.66,359.9 850.88,359.9 C854.09,359.9 857.02,358.3 859.65,356.9 C862.28,355.5 864.62,352.4 866.67,351.3 C868.71,350.2 870.03,349.6 871.93,350.3 C873.83,351.0 875.73,352.8 878.07,355.3 C880.41,357.8 883.19,361.8 885.96,365.3 C888.74,368.8 892.11,373.7 894.74,376.3 C897.37,378.9 899.12,379.7 901.75,380.9 C904.39,382.1 907.31,382.5 910.53,383.3 C913.74,384.1 917.54,385.6 921.05,385.9 C924.56,386.2 928.07,385.6 931.58,385.3 C935.09,385.0 938.60,384.9 942.11,383.9 C945.61,382.9 949.12,381.0 952.63,379.3 C956.14,377.6 959.65,375.0 963.16,373.9 C966.67,372.8 970.47,372.8 973.68,372.7 C976.90,372.6 979.53,372.4 982.46,373.3 C985.38,374.2 988.01,376.3 991.23,377.9 C994.44,379.5 998.25,381.2 1001.75,382.7 C1005.26,384.2 1008.19,385.7 1012.28,386.7 C1016.37,387.7 1020.47,388.3 1026.32,388.9 C1032.16,389.4 1040.94,389.9 1047.37,390.0 C1053.80,390.1 1059.06,389.7 1064.91,389.8 C1070.76,389.9 1077.19,390.5 1082.46,390.4 C1087.72,390.3 1092.11,390.1 1096.49,389.4 C1100.88,388.7 1104.39,387.6 1108.77,386.4 C1113.16,385.2 1119.01,383.8 1122.81,382.4 C1126.61,381.0 1128.95,379.1 1131.58,378.0 C1134.21,376.9 1137.13,376.1 1138.60,375.8 C1140.06,375.5 1138.60,376.0 1140.35,376.0 C1142.11,376.0 1146.39,376.0 1149.12,375.6 C1151.86,375.2 1154.39,374.7 1156.75,373.5 C1159.12,372.3 1161.14,370.6 1163.33,368.5 C1165.53,366.4 1167.89,363.7 1169.91,361.0 C1171.93,358.3 1173.79,355.6 1175.44,352.3 C1177.09,349.0 1178.38,344.6 1179.82,341.1 C1181.27,337.6 1182.68,334.1 1184.12,331.1 C1185.57,328.1 1187.05,324.7 1188.51,323.0 C1189.97,321.3 1191.43,321.1 1192.89,320.8 C1194.36,320.6 1195.82,320.7 1197.28,321.5 C1198.74,322.3 1200.20,324.8 1201.67,325.5 C1203.13,326.2 1204.68,326.5 1206.05,325.8 C1207.43,325.1 1208.82,323.8 1209.91,321.1 C1211.01,318.4 1211.62,313.8 1212.63,309.8 C1213.64,305.9 1214.78,301.3 1215.96,297.4 C1217.15,293.4 1218.46,289.9 1219.74,286.1 C1221.01,282.4 1222.22,278.8 1223.60,274.9 C1224.97,270.9 1226.61,266.3 1227.98,262.4 C1229.36,258.4 1230.75,254.9 1231.84,251.2 C1232.94,247.4 1233.65,244.1 1234.56,239.9 C1235.47,235.7 1236.37,230.8 1237.28,226.2 C1238.19,221.6 1239.09,216.9 1240.00,212.5 C1240.91,208.1 1241.80,203.6 1242.72,200.0 C1243.64,196.4 1244.52,193.5 1245.53,191.2 C1246.54,188.9 1247.78,187.2 1248.77,186.2 C1249.77,185.2 1250.48,184.9 1251.49,185.0 C1252.50,185.1 1253.82,185.5 1254.82,186.9 C1255.83,188.3 1256.73,190.7 1257.54,193.7 C1258.36,196.7 1259.01,201.2 1259.74,205.0 C1260.47,208.8 1261.11,212.7 1261.93,216.2 C1262.75,219.7 1263.74,223.3 1264.65,226.2 C1265.56,229.1 1266.18,232.0 1267.37,233.7 C1268.55,235.4 1269.93,235.9 1271.75,236.2 C1273.58,236.5 1276.14,235.4 1278.33,235.3 C1280.53,235.2 1282.89,234.8 1284.91,235.6 C1286.93,236.4 1288.79,237.7 1290.44,239.9 C1292.09,242.1 1293.38,245.4 1294.82,248.7 C1296.27,252.0 1297.49,256.4 1299.12,259.9 C1300.76,263.4 1302.82,266.6 1304.65,269.9 C1306.48,273.2 1308.26,276.8 1310.09,279.9 C1311.92,283.0 1313.79,286.4 1315.61,288.6 C1317.44,290.8 1319.23,291.9 1321.05,293.0 C1322.88,294.1 1324.97,293.5 1326.58,294.9 C1328.19,296.2 1329.43,298.8 1330.70,301.1 C1331.97,303.4 1332.82,305.9 1334.21,308.5 C1335.60,311.1 1337.21,314.5 1339.04,316.5 C1340.86,318.5 1342.91,319.8 1345.18,320.6 C1347.44,321.4 1350.66,321.2 1352.63,321.3 C1354.61,321.4 1355.12,320.9 1357.02,321.5 C1358.92,322.1 1361.70,323.6 1364.04,325.0 C1366.37,326.4 1368.71,328.6 1371.05,330.0 C1373.39,331.4 1376.02,333.1 1378.07,333.6 C1380.12,334.1 1381.73,333.8 1383.33,333.0 C1384.94,332.2 1386.26,329.5 1387.72,329.0 C1389.18,328.5 1390.79,328.5 1392.11,330.0 C1393.42,331.5 1394.15,335.7 1395.61,338.0 C1397.08,340.3 1399.42,342.9 1400.88,344.0 C1402.34,345.1 1402.92,344.7 1404.39,344.4 C1405.85,344.1 1408.19,343.7 1409.65,342.0 C1411.11,340.3 1412.21,337.7 1413.16,334.0 C1414.11,330.3 1414.77,325.7 1415.35,320.0 C1415.94,314.3 1416.15,306.7 1416.67,300.0 C1417.18,293.3 1417.92,287.5 1418.42,280.0 C1418.92,272.5 1419.21,265.0 1419.65,255.0 C1420.09,245.0 1420.38,232.5 1421.05,220.0 C1421.73,207.5 1422.81,193.3 1423.68,180.0 C1424.56,166.7 1425.44,153.3 1426.32,140.0 C1427.19,126.7 1428.00,113.0 1428.95,100.0 C1429.90,87.0 1431.13,73.4 1432.02,62.0 C1432.91,50.6 1433.67,38.1 1434.30,31.6 C1434.93,25.1 1435.54,24.4 1435.79,23.0 L1445.61,15.7 C1445.76,18.4 1446.14,23.7 1446.49,31.6 C1446.84,39.5 1447.28,51.9 1447.72,63.3 C1448.16,74.7 1448.65,87.2 1449.12,100.0 C1449.59,112.8 1450.09,126.7 1450.53,140.0 C1450.96,153.3 1451.26,166.7 1451.75,180.0 C1452.25,193.3 1452.92,208.3 1453.51,220.0 C1454.09,231.7 1454.39,241.7 1455.26,250.0 C1456.14,258.3 1457.31,264.0 1458.77,270.0 C1460.23,276.0 1462.43,281.0 1464.04,286.0 C1465.64,291.0 1467.11,295.0 1468.42,300.0 C1469.74,305.0 1470.76,310.3 1471.93,316.0 C1473.10,321.7 1474.56,330.3 1475.44,334.0 C1476.32,337.7 1476.08,335.3 1477.19,338.0 C1478.30,340.7 1480.50,346.7 1482.11,350.0 C1483.71,353.3 1485.03,356.5 1486.84,358.0 C1488.65,359.5 1491.08,358.7 1492.98,359.0 C1494.88,359.3 1496.93,358.2 1498.25,360.0 C1499.56,361.8 1500.00,366.0 1500.88,370.0 C1501.75,374.0 1502.49,379.0 1503.51,384.0 C1504.53,389.0 1505.41,395.0 1507.02,400.0 C1508.63,405.0 1510.96,410.5 1513.16,414.0 C1515.35,417.5 1517.40,419.5 1520.18,421.0 C1522.95,422.5 1528.22,422.7 1529.82,423.0"/>
</g>
<g id="axes" fill="#000" shape-rendering="crispEdges">
<rect x="157" y="13" width="8" height="1534" rx="1.5"/>
<rect x="1757" y="10" width="8" height="1533" rx="2.5"/>
<rect x="155.5" y="13" width="1606" height="7" rx="1.5"/>
<rect x="157" y="1525" width="1610" height="7" rx="2"/>
<rect x="309.2" y="1528" width="7.8" height="19.8" rx="2.5"/>
<rect x="611.0" y="1528" width="7.8" height="19.8" rx="2.5"/>
<rect x="913.1" y="1528" width="7.8" height="19.8" rx="2.5"/>
<rect x="1215.2" y="1528" width="7.8" height="19.8" rx="2.5"/>
<rect x="1517.1" y="1528" width="7.8" height="19.8" rx="2.5"/>
<rect x="460.3" y="1528" width="7.4" height="11.6" rx="2.5"/>
<rect x="762.3" y="1528" width="7.4" height="11.6" rx="2.5"/>
<rect x="1064.3" y="1528" width="7.4" height="11.6" rx="2.5"/>
<rect x="1366.3" y="1528" width="7.4" height="11.6" rx="2.5"/>
<rect x="1668.3" y="1528" width="7.4" height="11.6" rx="2.5"/>
</g>
<g id="ticklabels">
<text x="231.24" y="1608.2" font-size="76" textLength="161.14" lengthAdjust="spacingAndGlyphs">1000</text>
<text x="553.62" y="1608.2" font-size="76" textLength="120.86" lengthAdjust="spacingAndGlyphs">800</text>
<text x="856.54" y="1608.2" font-size="76" textLength="119.91" lengthAdjust="spacingAndGlyphs">600</text>
<text x="1158.65" y="1608.2" font-size="76" textLength="119.91" lengthAdjust="spacingAndGlyphs">400</text>
<text x="1458.49" y="1608.2" font-size="76" textLength="122.13" lengthAdjust="spacingAndGlyphs">200</text>
</g>
<g id="xlabel">
<text x="574.66" y="1717.8" font-size="76" textLength="252.04" lengthAdjust="spacingAndGlyphs">Raman</text>
<text x="842.37" y="1717.8" font-size="76" textLength="166.42" lengthAdjust="spacingAndGlyphs">Shift</text>
<text x="1074.66" y="1717.8" font-size="76" textLength="106.42" lengthAdjust="spacingAndGlyphs">cm</text>
<text x="1028.90" y="1725.8" font-size="92.7" textLength="25.07" lengthAdjust="spacingAndGlyphs">/</text>
<text x="1180.02" y="1670.2" font-size="46" textLength="37.56" lengthAdjust="spacingAndGlyphs">-1</text>
</g>
<g id="ylabel">
<text transform="translate(64,1204.08) rotate(-90)" x="0" y="0" font-size="76" textLength="390.69" lengthAdjust="spacingAndGlyphs">Normalized</text>
<text transform="translate(64,795.98) rotate(-90)" x="0" y="0" font-size="76" textLength="281.44" lengthAdjust="spacingAndGlyphs">intensity</text>
<text transform="translate(72,496.60) rotate(-90)" x="0" y="0" font-size="92.7" textLength="24.48" lengthAdjust="spacingAndGlyphs">/</text>
<text transform="translate(64,454.97) rotate(-90)" x="0" y="0" font-size="76" textLength="117.12" lengthAdjust="spacingAndGlyphs">u.a.</text>
</g>
<g id="curvelabels">
<text x="187.64" y="373.6" font-size="58" textLength="66.31" lengthAdjust="spacingAndGlyphs">(e)</text>
<text x="191.49" y="750.4" font-size="58" textLength="74.62" lengthAdjust="spacingAndGlyphs">(d)</text>
<text x="192.92" y="962.6" font-size="58" textLength="63.84" lengthAdjust="spacingAndGlyphs">(c)</text>
<text x="193.62" y="1172.6" font-size="58" textLength="70.43" lengthAdjust="spacingAndGlyphs">(b)</text>
<text x="194.72" y="1383.6" font-size="58" textLength="66.95" lengthAdjust="spacingAndGlyphs">(a)</text>
</g>
</svg>
</body>
</html>
